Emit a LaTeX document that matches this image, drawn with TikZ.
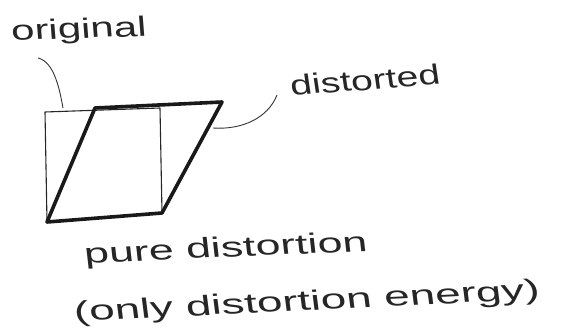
\documentclass[tikz,border=0pt]{standalone}
\usepackage{fontspec}
\setmainfont{Liberation Sans}
\begin{document}
\begin{tikzpicture}[x=1pt,y=-1pt,
  thinline/.style={draw=black!85, line width=1.1pt, line join=round},
  thickline/.style={draw=black!90, line width=3.6pt, line join=round, line cap=round},
  leader/.style={draw=black!80, line width=0.9pt},
  hand/.style={font=\fontsize{28}{30}\selectfont, text=black!85, inner sep=0pt}]
\useasboundingbox (0,0) rectangle (562,332);
% corners
\coordinate (oTL) at (45,112);
\coordinate (oTR) at (160,108);
\coordinate (oBR) at (162,213);
\coordinate (oBL) at (47,222);
\coordinate (dTL) at (95,108);
\coordinate (dTR) at (222,102);
% original square
\draw[thinline] (oTL) -- (oTR) -- (oBR) -- (oBL) -- cycle;
% distorted parallelogram
\draw[thickline] (dTL) -- (dTR) -- (oBR) -- (oBL) -- cycle;
% labels
\node[hand, xscale=1.5, rotate=3] (orig) at (79,31) {original};
\node[hand, xscale=1.4, rotate=6] (dist) at (365,80) {distorted};
\node[hand, xscale=1.6, rotate=4] (pure) at (226,250) {pure distortion};
\node[hand, xscale=1.64, rotate=4.5] (only) at (307,303) {(only distortion energy)};
% leaders
\coordinate (lo1) at (38,58);
\coordinate (lo2) at (63,108);
\coordinate (ld1) at (213,128);
\coordinate (ld2) at (277,95);
\draw[leader] (lo1) .. controls (55,62) and (60,92) .. (lo2);
\draw[leader] (ld1) .. controls (242,130) and (268,118) .. (ld2);
\end{tikzpicture}
\end{document}
